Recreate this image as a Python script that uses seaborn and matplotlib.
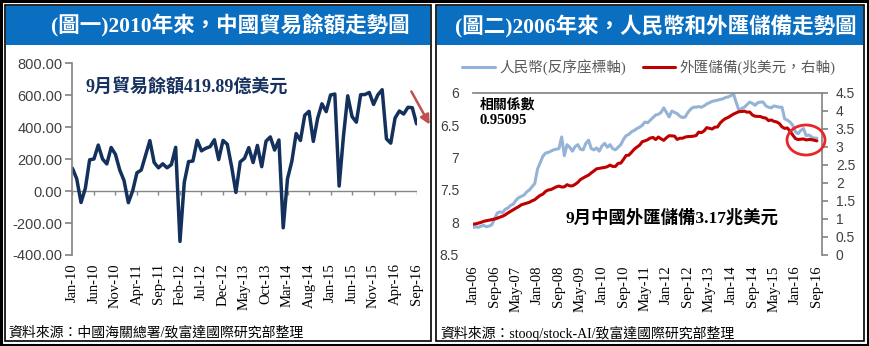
import numpy as np
import pandas as pd
import matplotlib
matplotlib.use("Agg")
import matplotlib.pyplot as plt
import seaborn as sns
from matplotlib.patches import Rectangle, Ellipse
from matplotlib.lines import Line2D
from matplotlib.ticker import FuncFormatter

# ---------------- data ----------------
# China monthly trade balance (100 million USD), Jan-2010 .. Sep-2016
trade_balance = [
    142, 76, -72, 17, 195, 200, 287, 200, 169, 272, 229, 131,
    65, -73, 1, 114, 131, 223, 315, 178, 145, 170, 145, 165,
    273, -315, 54, 184, 187, 317, 251, 267, 277, 320, 196, 316,
    292, 153, -9, 182, 204, 271, 178, 285, 152, 311, 338, 256,
    319, -230, 77, 185, 359, 316, 473, 498, 310, 454, 545, 496,
    600, 606, 31, 341, 595, 465, 430, 602, 603, 616, 541, 601,
    633, 326, 299, 456, 500, 481, 523, 521, 420,
]
trade_tick_labels = ["Jan-10", "Jun-10", "Nov-10", "Apr-11", "Sep-11", "Feb-12",
                     "Jul-12", "Dec-12", "May-13", "Oct-13", "Mar-14", "Aug-14",
                     "Jan-15", "Jun-15", "Nov-15", "Apr-16", "Sep-16"]
trade_yticks = [-400, -200, 0, 200, 400, 600, 800]

# USD/CNY (inverted axis), Jan-2006 .. Sep-2016
cny_rate = [
    8.08, 8.07, 8.08, 8.06, 8.05, 8.07, 8.06, 8.04, 7.95, 7.86, 7.84, 7.85,
    7.80, 7.78, 7.74, 7.72, 7.66, 7.62, 7.60, 7.58, 7.53, 7.50, 7.45, 7.40,
    7.18, 7.08, 6.98, 6.93, 6.92, 6.90, 6.88, 6.87, 6.86, 6.68, 6.97, 6.80,
    6.84, 6.90, 6.83, 6.80, 6.87, 6.88, 6.78, 6.73, 6.86, 6.88, 6.85, 6.90,
    6.82, 6.78, 6.84, 6.80, 6.86, 6.88, 6.84, 6.80, 6.72, 6.66, 6.64, 6.60,
    6.58, 6.55, 6.53, 6.50, 6.45, 6.46, 6.42, 6.38, 6.34, 6.33, 6.30, 6.23,
    6.30, 6.37, 6.28, 6.30, 6.32, 6.36, 6.38, 6.37, 6.30, 6.25, 6.22, 6.22,
    6.21, 6.22, 6.20, 6.17, 6.15, 6.13, 6.12, 6.11, 6.10, 6.09, 6.07, 6.06,
    6.04, 6.02, 6.15, 6.27, 6.24, 6.22, 6.18, 6.14, 6.16, 6.19, 6.15, 6.14,
    6.14, 6.20, 6.22, 6.23, 6.20, 6.21, 6.22, 6.22, 6.40, 6.42, 6.45, 6.50,
    6.60, 6.63, 6.58, 6.55, 6.66, 6.65, 6.68, 6.70, 6.70,
]
# China FX reserves (trillion USD), Jan-2006 .. Sep-2016
fx_reserves = [
    0.845, 0.854, 0.875, 0.895, 0.925, 0.941, 0.954, 0.972, 0.988, 1.010, 1.040, 1.066,
    1.105, 1.157, 1.202, 1.247, 1.293, 1.333, 1.385, 1.409, 1.434, 1.455, 1.497, 1.528,
    1.590, 1.647, 1.682, 1.757, 1.797, 1.809, 1.845, 1.884, 1.906, 1.880, 1.885, 1.946,
    1.913, 1.912, 1.954, 2.009, 2.089, 2.132, 2.175, 2.211, 2.273, 2.328, 2.388, 2.399,
    2.415, 2.425, 2.447, 2.490, 2.454, 2.454, 2.538, 2.548, 2.648, 2.760, 2.768, 2.847,
    2.932, 2.994, 3.045, 3.145, 3.166, 3.198, 3.245, 3.262, 3.202, 3.274, 3.221, 3.181,
    3.254, 3.310, 3.305, 3.299, 3.206, 3.240, 3.240, 3.273, 3.285, 3.288, 3.297, 3.312,
    3.410, 3.395, 3.443, 3.535, 3.515, 3.497, 3.548, 3.553, 3.663, 3.736, 3.789, 3.821,
    3.867, 3.914, 3.948, 3.981, 3.984, 3.993, 3.966, 3.969, 3.887, 3.853, 3.847, 3.843,
    3.813, 3.802, 3.730, 3.748, 3.711, 3.694, 3.651, 3.557, 3.514, 3.525, 3.438, 3.330,
    3.231, 3.202, 3.213, 3.220, 3.192, 3.205, 3.201, 3.185, 3.166,
]
fx_tick_labels = ["Jan-06", "Sep-06", "May-07", "Jan-08", "Sep-08", "May-09",
                  "Jan-10", "Sep-10", "May-11", "Jan-12", "Sep-12", "May-13",
                  "Jan-14", "Sep-14", "May-15", "Jan-16", "Sep-16"]
cny_yticks = [6, 6.5, 7, 7.5, 8, 8.5]
fx_yticks = [0, 0.5, 1, 1.5, 2, 2.5, 3, 3.5, 4, 4.5]

title_left = "(圖一)2010年來，中國貿易餘額走勢圖"
title_right = "(圖二)2006年來，人民幣和外匯儲備走勢圖"
note_left = "9月貿易餘額419.89億美元"
note_right = "9月中國外匯儲備3.17兆美元"
corr_label = "相關係數"
corr_value = "0.95095"
legend_labels = ["人民幣(反序座標軸)", "外匯儲備(兆美元，右軸)"]
source_left = "資料來源：中國海關總署/致富達國際研究部整理"
source_right = "資料來源：stooq/stock-AI/致富達國際研究部整理"

# ---------------- style ----------------
sns.set_theme(style="white")
SERIF = ['Liberation Serif', 'Noto Sans CJK TC']
SANS = ['Liberation Sans', 'Noto Sans CJK TC']
plt.rcParams['font.family'] = SERIF
plt.rcParams['axes.unicode_minus'] = False

W, H = 869, 346
fig = plt.figure(figsize=(W / 100, H / 100), dpi=100)
fig.patch.set_facecolor('white')


def fr(x0, y0, x1, y1):
    return [x0 / W, 1 - y1 / H, (x1 - x0) / W, (y1 - y0) / H]


BLUE_BAR = '#0B6FC1'
GRAY = '#868686'
TXT = '#404040'

bg = fig.add_axes([0, 0, 1, 1], zorder=-10)
bg.set_xlim(0, W)
bg.set_ylim(H, 0)
bg.axis('off')
bg.add_patch(Rectangle((1, 1), W - 2, H - 2, fill=False, ec='black', lw=2.2))
for (x0, x1) in [(5, 431), (436, 864)]:
    bg.add_patch(Rectangle((x0, 5), x1 - x0, 336, fill=False, ec='black', lw=1.2))
    bg.add_patch(Rectangle((x0 + 1, 6), x1 - x0 - 2, 39, fc=BLUE_BAR, ec='none'))
bg.text(230, 26, title_left, color='white', ha='center', va='center',
        fontsize=15.5, fontweight='bold', family=SERIF)
bg.text(656, 26, title_right, color='white', ha='center', va='center',
        fontsize=15.5, fontweight='bold', family=SERIF)
bg.text(8, 333, source_left, ha='left', va='center', fontsize=10, color='black', family=SERIF)
bg.text(440, 333, source_right, ha='left', va='center', fontsize=10, color='black', family=SERIF)

# ---------------- left chart ----------------
ax1 = fig.add_axes(fr(72, 63, 417, 255))
df1 = pd.DataFrame({'m': np.arange(len(trade_balance)), 'v': trade_balance})
sns.lineplot(data=df1, x='m', y='v', ax=ax1, color='#14305C', lw=2.5)
ax1.set_xlim(-0.1, len(trade_balance) - 0.9)
ax1.set_ylim(trade_yticks[0], trade_yticks[-1])
ax1.set_yticks(trade_yticks)
ax1.yaxis.set_major_formatter(FuncFormatter(lambda v, p: f"{v:.2f}"))
xt1 = list(range(0, len(trade_balance), 5))
ax1.set_xticks(xt1)
ax1.set_xticklabels(trade_tick_labels, rotation=90, fontsize=10.5, family=SERIF, color='black')
ax1.set_xlabel('')
ax1.set_ylabel('')
for s in ['top', 'right', 'bottom']:
    ax1.spines[s].set_visible(False)
ax1.spines['left'].set_color(GRAY)
ax1.tick_params(axis='x', length=0, pad=6)
ax1.tick_params(axis='y', direction='out', length=5, color=GRAY, labelsize=10.5,
                labelcolor=TXT, pad=2, left=True)
for lab in ax1.get_yticklabels():
    lab.set_family(SANS)
ax1.axhline(0, color=GRAY, lw=1, zorder=1)
ax1.vlines(xt1, -28, 0, color=GRAY, lw=1, zorder=1)
ax1.set_facecolor('none')

# ---------------- right chart ----------------
ax2 = fig.add_axes(fr(473, 93, 822, 254.5))
n2 = len(cny_rate)
df2 = pd.DataFrame({'m': np.arange(n2), 'cny': cny_rate, 'fx': fx_reserves})
sns.lineplot(data=df2, x='m', y='cny', ax=ax2, color='#95B3D7', lw=2.2)
ax2.set_ylim(cny_yticks[-1], cny_yticks[0])
ax2.set_yticks(cny_yticks)
ax2.set_yticklabels([f"{v:g}" for v in cny_yticks], family=SANS)
ax2.set_xlim(0, n2 + 0.9)
xt2 = list(range(0, n2, 8))
ax2.set_xticks(xt2)
ax2.set_xticklabels(fx_tick_labels, rotation=90, fontsize=10.5, family=SERIF, color='black')
ax2.set_xlabel('')
ax2.set_ylabel('')
for s in ['left', 'right', 'bottom']:
    ax2.spines[s].set_visible(False)
ax2.spines['top'].set_color(GRAY)
ax2.tick_params(axis='x', length=0, pad=8, labelbottom=True, bottom=False, top=False)
ax2.tick_params(axis='y', length=0, labelsize=10, labelcolor=TXT, pad=10)

ax2r = ax2.twinx()
sns.lineplot(data=df2, x='m', y='fx', ax=ax2r, color='#C00000', lw=2.2)
ax2r.set_ylim(fx_yticks[0], fx_yticks[-1])
ax2r.set_yticks(fx_yticks)
ax2r.set_yticklabels([f"{v:g}" for v in fx_yticks], family=SANS)
ax2r.set_ylabel('')
for s in ['left', 'top', 'bottom']:
    ax2r.spines[s].set_visible(False)
ax2r.spines['right'].set_color(GRAY)
ax2r.tick_params(axis='y', direction='out', length=4, color=GRAY, labelsize=10,
                 labelcolor=TXT, pad=6, right=True)

handles = [Line2D([], [], color='#95B3D7', lw=2.2), Line2D([], [], color='#C00000', lw=2.2)]
fig.legend(handles, legend_labels, loc='center', bbox_to_anchor=(649 / W, 1 - 67 / H),
           ncol=2, frameon=False, handlelength=2.2, handletextpad=0.3,
           columnspacing=1.2, labelcolor='#595959', prop={'family': SERIF, 'size': 10.5})

# ---------------- overlay ----------------
top = fig.add_axes([0, 0, 1, 1], zorder=20)
top.set_xlim(0, W)
top.set_ylim(H, 0)
top.axis('off')
top.patch.set_alpha(0)
top.text(85, 88, note_left, color='#17325F', ha='left', va='center', fontsize=13,
         fontweight='bold', family=SERIF)
top.annotate('', xy=(431, 127), xytext=(410, 89),
             arrowprops=dict(arrowstyle='-|>', color='#C0504D', lw=1.8, mutation_scale=14))
top.text(480, 105, corr_label, color='black', ha='left', va='center', fontsize=10,
         fontweight='bold', family=SERIF)
top.text(480, 121, corr_value, color='black', ha='left', va='center', fontsize=10.5,
         fontweight='bold', family=SERIF)
top.text(565, 218, note_right, color='black', ha='left', va='center', fontsize=12.5,
         fontweight='bold', family=SERIF)
top.add_patch(Ellipse((806, 140), 38, 30, fill=False, ec='#E8262A', lw=2))

fig.savefig('out.png', dpi=100)
